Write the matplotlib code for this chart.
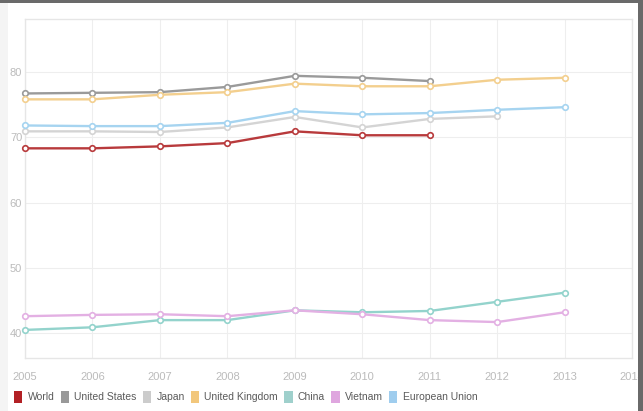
import matplotlib.pyplot as plt
from matplotlib.patches import Patch, Rectangle
import numpy as np

# ---- data ----
years = [2005, 2006, 2007, 2008, 2009, 2010, 2011, 2012, 2013]
world = [68.3, 68.3, 68.6, 69.1, 70.9, 70.3, 70.3, None, None]
united_states = [76.7, 76.8, 76.9, 77.7, 79.4, 79.1, 78.6, None, None]
japan = [70.9, 70.9, 70.8, 71.5, 73.1, 71.5, 72.8, 73.2, None]
united_kingdom = [75.8, 75.8, 76.5, 76.9, 78.2, 77.8, 77.8, 78.8, 79.1]
china = [40.5, 40.9, 42.0, 42.0, 43.5, 43.2, 43.4, 44.8, 46.2]
vietnam = [42.6, 42.8, 42.9, 42.6, 43.5, 42.9, 42.0, 41.7, 43.2]
european_union = [71.8, 71.7, 71.7, 72.2, 74.0, 73.5, 73.7, 74.2, 74.6]

series_names = ['World', 'United States', 'Japan', 'United Kingdom',
                'China', 'Vietnam', 'European Union']
series_values = [world, united_states, japan, united_kingdom,
                 china, vietnam, european_union]
line_colors = ['#b83a3c', '#9a9a9a', '#d4d4d4', '#f3cf8e',
               '#93d3cc', '#e3b0e3', '#a6d4f0']
legend_colors = ['#b22025', '#999999', '#cccccc', '#f2c77c',
                 '#9fd0cc', '#dfa6df', '#9fcdee']

x_ticks = [2005, 2006, 2007, 2008, 2009, 2010, 2011, 2012, 2013, 2014]
y_ticks = [40, 50, 60, 70, 80]

plt.rcParams['font.family'] = ['Liberation Sans', 'DejaVu Sans']

fig = plt.figure(figsize=(6.43, 4.11), dpi=100)
fig.patch.set_facecolor('white')

# screenshot frame: grey left strip, dark top and right bands
fig.add_artist(Rectangle((0, 0), 8 / 643, 1, transform=fig.transFigure,
                         facecolor='#f4f4f4', edgecolor='none', zorder=0))
fig.add_artist(Rectangle((0, 1 - 3 / 411), 1, 3 / 411, transform=fig.transFigure,
                         facecolor='#6a6a6a', edgecolor='none', zorder=5))
fig.add_artist(Rectangle((638 / 643, 0), 5 / 643, 1, transform=fig.transFigure,
                         facecolor='#6a6a6a', edgecolor='none', zorder=5))

ax = fig.add_axes([25 / 643, 1 - 358 / 411, (632 - 25) / 643, (358 - 19) / 411])
ax.set_xlim(2005, 2014)
ax.set_ylim(36.2, 88.1)

for name, vals, c in zip(series_names, series_values, line_colors):
    v = np.array([np.nan if a is None else a for a in vals], dtype=float)
    ax.plot(years, v, color=c, lw=1.7, marker='o', markersize=4,
            markerfacecolor='white', markeredgecolor=c, markeredgewidth=1.2,
            zorder=3, clip_on=False)

ax.set_xticks(x_ticks)
ax.set_yticks(y_ticks)
ax.grid(True, color='#eeeeee', lw=0.8)
ax.set_axisbelow(True)
ax.tick_params(length=0, colors='#bbbbbb', labelsize=8)
ax.tick_params(axis='x', pad=10)
ax.tick_params(axis='y', pad=2)
for s in ax.spines.values():
    s.set_color('#e6e6e6')
    s.set_linewidth(1.0)

handles = [Patch(facecolor=c, edgecolor='none') for c in legend_colors]
leg = fig.legend(handles, series_names, loc='center left',
                 bbox_to_anchor=(14 / 643, 1 - 397 / 411), ncol=7, frameon=False,
                 fontsize=7.5, handlelength=0.8, handleheight=1.4,
                 handletextpad=0.5, columnspacing=0.6, borderpad=0, borderaxespad=0)
for t in leg.get_texts():
    t.set_color('#5a5a5a')

fig.savefig('out.png', dpi=100)
